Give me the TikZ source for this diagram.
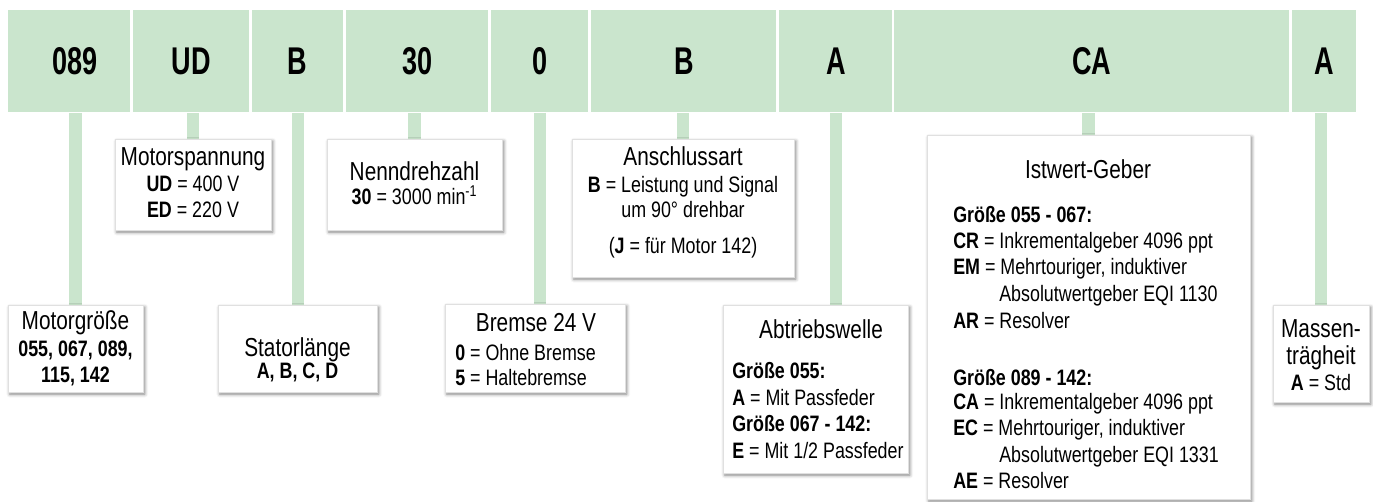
\documentclass[tikz,border=0pt]{standalone}
\usepackage{fontspec}
\setmainfont{Liberation Sans}
\newfontfamily\fN{Liberation Sans}[FakeStretch=0.8]
\newfontfamily\fB{Liberation Sans}[FakeStretch=0.7]
\usetikzlibrary{shadows.blur,backgrounds}
\definecolor{barGreen}{RGB}{202,229,205}
\newcommand\myTitle{\fN\fontsize{19.5}{20}\selectfont}
\newcommand\myBody{\fN\fontsize{16.75}{17}\selectfont}
\tikzset{
  cell/.style={fill=barGreen, inner sep=0, anchor=north west, minimum height=102*0.75pt,
    font=\fB\bfseries\fontsize{29}{29}\selectfont},
  infobox/.style={fill=white, draw=black!12, line width=0.3pt, inner sep=0, anchor=north west,
    blur shadow={shadow xshift=1.2pt, shadow yshift=-1.5pt, shadow blur radius=2.5pt, shadow opacity=50}},
  conn/.style={draw=barGreen, line width=9.4pt},
  tx/.style={inner sep=0, anchor=base},
  txl/.style={inner sep=0, anchor=base west}
}
\begin{document}
\begin{tikzpicture}[x=0.75pt,y=-0.75pt]
\useasboundingbox (0,0) rectangle (1373,502);
% bar cells
\node[cell, minimum width=122*0.75pt] (c1) at (8,10) {\hspace*{9pt}089};
\node[cell, minimum width=116*0.75pt] (c2) at (133,10) {UD};
\node[cell, minimum width=91*0.75pt] (c3) at (252,10) {B};
\node[cell, minimum width=142*0.75pt] (c4) at (346,10) {30};
\node[cell, minimum width=97*0.75pt] (c5) at (491,10) {0};
\node[cell, minimum width=185*0.75pt] (c6) at (591,10) {B};
\node[cell, minimum width=113*0.75pt] (c7) at (779,10) {A};
\node[cell, minimum width=395*0.75pt] (c8) at (894,10) {CA};
\node[cell, minimum width=64*0.75pt] (c9) at (1292,10) {A};
% boxes
\node[infobox, minimum width=135*0.75pt, minimum height=87*0.75pt] (b1) at (8,305) {};
\node[infobox, minimum width=156*0.75pt, minimum height=91*0.75pt] (b2) at (115,139) {};
\node[infobox, minimum width=159*0.75pt, minimum height=87*0.75pt] (b3) at (218,305) {};
\node[infobox, minimum width=175*0.75pt, minimum height=91*0.75pt] (b4) at (327,139) {};
\node[infobox, minimum width=180*0.75pt, minimum height=88*0.75pt] (b5) at (445,304) {};
\node[infobox, minimum width=222*0.75pt, minimum height=138*0.75pt] (b6) at (572,139) {};
\node[infobox, minimum width=185*0.75pt, minimum height=168*0.75pt] (b7) at (723,305) {};
\node[infobox, minimum width=323*0.75pt, minimum height=364*0.75pt] (b8) at (927,135) {};
\node[infobox, minimum width=96*0.75pt, minimum height=97*0.75pt] (b9) at (1273,305) {};
% connectors
\begin{pgfonlayer}{background}
\draw[conn] (b1.north) -- (b1.north |- c1.south);
\draw[conn] (b2.north) -- (b2.north |- c2.south);
\draw[conn] (c3.south) -- (c3.south |- b3.north);
\draw[conn] (b4.north) -- (b4.north |- c4.south);
\draw[conn] (c5.south) -- (c5.south |- b5.north);
\draw[conn] (b6.north) -- (b6.north |- c6.south);
\draw[conn] (c7.south) -- (c7.south |- b7.north);
\draw[conn] (b8.north) -- (b8.north |- c8.south);
\draw[conn] (b9.north) -- (b9.north |- c9.south);
\end{pgfonlayer}
% Motorgroesse
\node[tx] (t1a) at (75.5,329) {\myTitle Motorgröße};
\node[tx] (t1b) at (75.5,356) {\myBody\bfseries 055, 067, 089,};
\node[tx] (t1c) at (75.5,382) {\myBody\bfseries 115, 142};
% Motorspannung
\node[tx] (t2a) at (193,166) {\myTitle Motorspannung};
\node[tx] (t2b) at (193,192) {\myBody\textbf{UD} = 400 V};
\node[tx] (t2c) at (193,218) {\myBody\textbf{ED} = 220 V};
% Statorlaenge
\node[tx] (t3a) at (297.5,356) {\myTitle Statorlänge};
\node[tx] (t3b) at (297.5,378) {\myBody\bfseries A, B, C, D};
% Nenndrehzahl
\node[tx] (t4a) at (414.5,181) {\myTitle Nenndrehzahl};
\node[tx] (t4b) at (414.5,205) {\myBody\textbf{30} = 3000 min\textsuperscript{-1}};
% Bremse
\node[tx] (t5a) at (536,331) {\myTitle Bremse 24 V};
\node[txl] (t5b) at (455,360) {\myBody\textbf{0} = Ohne Bremse};
\node[txl] (t5c) at (455,385) {\myBody\textbf{5} = Haltebremse};
% Anschlussart
\node[tx] (t6a) at (683,166) {\myTitle Anschlussart};
\node[tx] (t6b) at (683,193) {\myBody\textbf{B} = Leistung und Signal};
\node[tx] (t6c) at (683,218) {\myBody um 90° drehbar};
\node[tx] (t6d) at (683,253) {\myBody(\textbf{J} = für Motor 142)};
% Abtriebswelle
\node[tx] (t7a) at (821,338) {\myTitle Abtriebswelle};
\node[txl] (t7b) at (732,378) {\myBody\bfseries Größe 055:};
\node[txl] (t7c) at (732,405) {\myBody\textbf{A} = Mit Passfeder};
\node[txl] (t7d) at (732,431) {\myBody\bfseries Größe 067 - 142:};
\node[txl] (t7e) at (732,458) {\myBody\textbf{E} = Mit 1/2 Passfeder};
% Istwert-Geber
\node[tx] (t8a) at (1088,179) {\myTitle Istwert-Geber};
\node[txl] (t8b) at (953,223) {\myBody\bfseries Größe 055 - 067:};
\node[txl] (t8c) at (953,248) {\myBody\textbf{CR} = Inkrementalgeber 4096 ppt};
\node[txl] (t8d) at (953,274) {\myBody\textbf{EM} = Mehrtouriger, induktiver};
\node[txl] (t8e) at (999,301) {\myBody Absolutwertgeber EQI 1130};
\node[txl] (t8f) at (953,328) {\myBody\textbf{AR} = Resolver};
\node[txl] (t8g) at (953,385) {\myBody\bfseries Größe 089 - 142:};
\node[txl] (t8h) at (953,409) {\myBody\textbf{CA} = Inkrementalgeber 4096 ppt};
\node[txl] (t8i) at (953,435) {\myBody\textbf{EC} = Mehrtouriger, induktiver};
\node[txl] (t8j) at (999,462) {\myBody Absolutwertgeber EQI 1331};
\node[txl] (t8k) at (953,488) {\myBody\textbf{AE} = Resolver};
% Massentraegheit
\node[tx] (t9a) at (1321,337) {\myTitle Massen-};
\node[tx] (t9b) at (1321,364) {\myTitle trägheit};
\node[tx] (t9c) at (1321,390) {\myBody\textbf{A} = Std};
\end{tikzpicture}
\end{document}
